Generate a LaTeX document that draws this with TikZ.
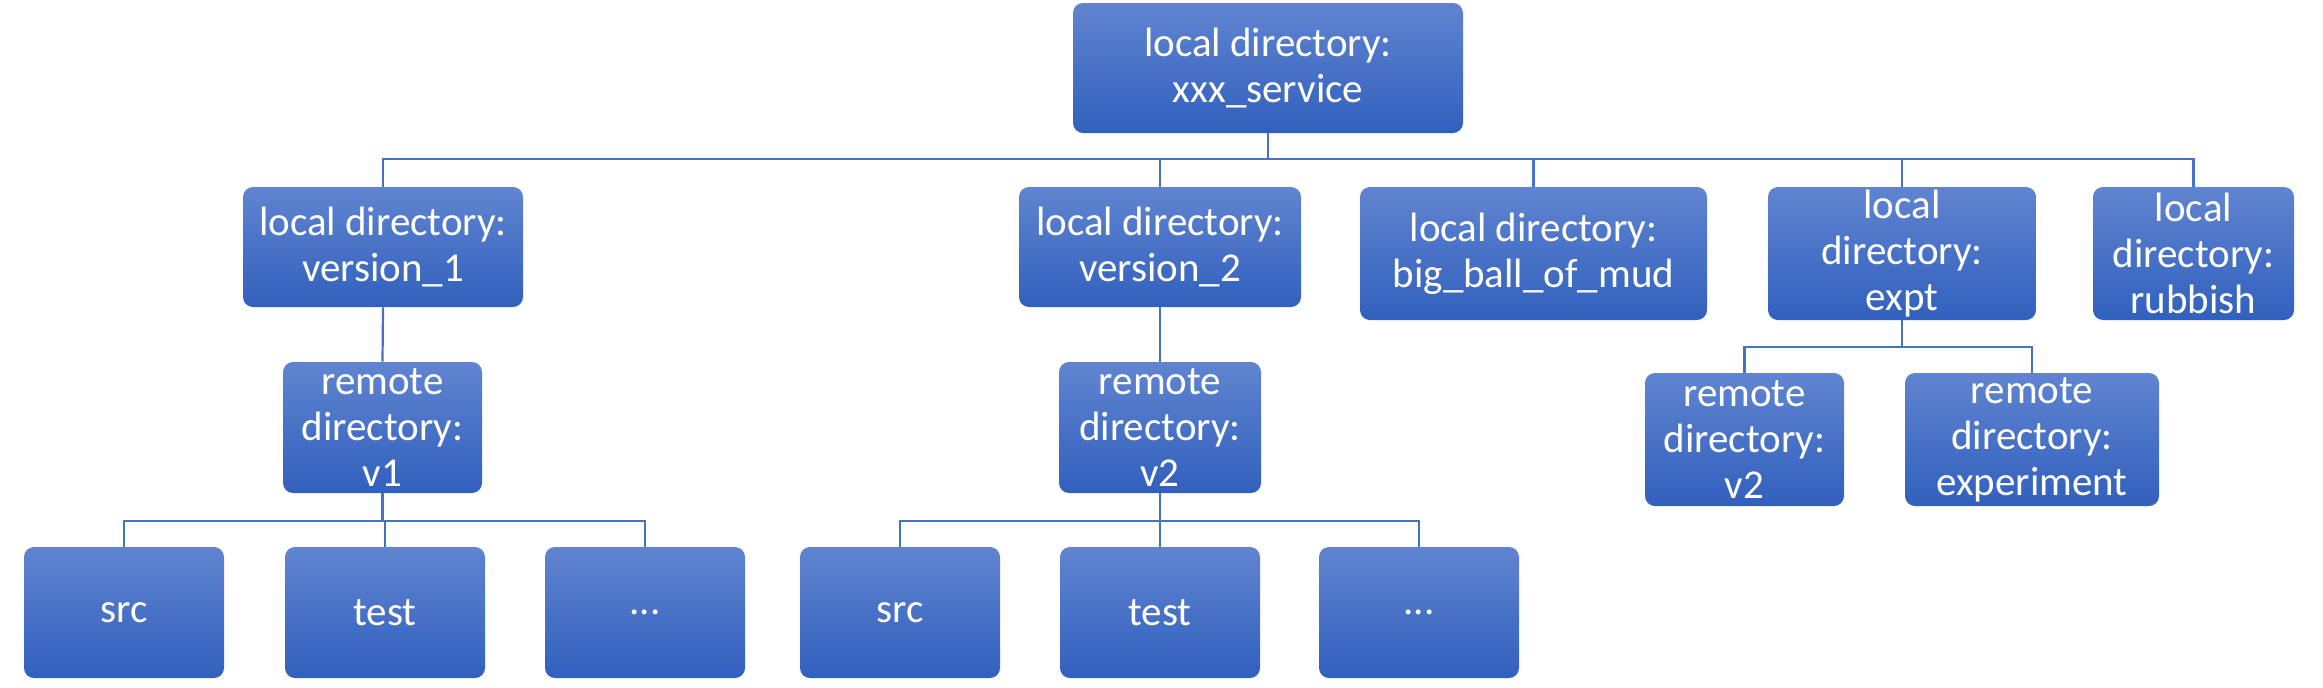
\documentclass[tikz,border=0pt]{standalone}
\usepackage{fontspec}
\setmainfont{Carlito}
\definecolor{boxtop}{RGB}{96,132,208}
\definecolor{boxbot}{RGB}{49,96,189}
\definecolor{linkc}{RGB}{68,114,196}
\begin{document}
\begin{tikzpicture}[x=0.5pt,y=-0.5pt,
  dirbox/.style={rounded corners=5pt, top color=boxtop, bottom color=boxbot,
    draw=none, text=white, align=center, inner sep=0pt,
    font=\fontsize{20.5pt}{23pt}\selectfont},
  leafbox/.style={dirbox, minimum width=100pt, minimum height=65.5pt},
  link/.style={draw=linkc, line width=1.1pt}]
\useasboundingbox (0,0) rectangle (2323,687);
% level 1
\node[dirbox, minimum width=195pt, minimum height=65pt] (root) at (1268,68) {local directory:\\xxx\_service};
% level 2
\node[dirbox, minimum width=140pt, minimum height=60pt] (ver1) at (383,247) {local directory:\\version\_1};
\node[dirbox, minimum width=141pt, minimum height=60pt] (ver2) at (1160,247) {local directory:\\version\_2};
\node[dirbox, minimum width=173.5pt, minimum height=66.5pt] (bbm) at (1533.5,253.5) {local directory:\\big\_ball\_of\_mud};
\node[dirbox, minimum width=134pt, minimum height=66.5pt] (expt) at (1902,253.5) {local\\directory:\\expt};
\node[dirbox, minimum width=100.5pt, minimum height=66.5pt] (rub) at (2193.5,253.5) {local\\directory:\\rubbish};
% level 3
\node[dirbox, minimum width=99.5pt, minimum height=65.5pt] (rem1) at (382.5,427.5) {remote\\directory:\\v1};
\node[dirbox, minimum width=101pt, minimum height=65.5pt] (rem2) at (1160,427.5) {remote\\directory:\\v2};
\node[dirbox, minimum width=99.5pt, minimum height=66.5pt] (rem3) at (1744.5,439.5) {remote\\directory:\\v2};
\node[dirbox, minimum width=127pt, minimum height=66.5pt] (rem4) at (2032,439.5) {remote\\directory:\\experiment};
% level 4
\node[leafbox] (srca) at (124,612.5) {src};
\node[leafbox] (testa) at (385,612.5) {test};
\node[leafbox] (dota) at (645,612.5) {...};
\node[leafbox] (srcb) at (900,612.5) {src};
\node[leafbox] (testb) at (1160,612.5) {test};
\node[leafbox] (dotb) at (1419,612.5) {...};
% bus coordinates
\coordinate (bus0) at (0,159);
\coordinate (bus1) at (0,521);
\coordinate (bus2) at (0,347);
% connectors
\foreach \c in {ver1,ver2,bbm,expt,rub}
  \draw[link] (root.south) -- (root.south |- bus0) -| (\c.north);
\draw[link] (ver1.south) -- (rem1.north);
\draw[link] (ver2.south) -- (rem2.north);
\foreach \c in {srca,testa,dota}
  \draw[link] (rem1.south) -- (rem1.south |- bus1) -| (\c.north);
\foreach \c in {srcb,testb,dotb}
  \draw[link] (rem2.south) -- (rem2.south |- bus1) -| (\c.north);
\foreach \c in {rem3,rem4}
  \draw[link] (expt.south) -- (expt.south |- bus2) -| (\c.north);
\end{tikzpicture}
\end{document}
